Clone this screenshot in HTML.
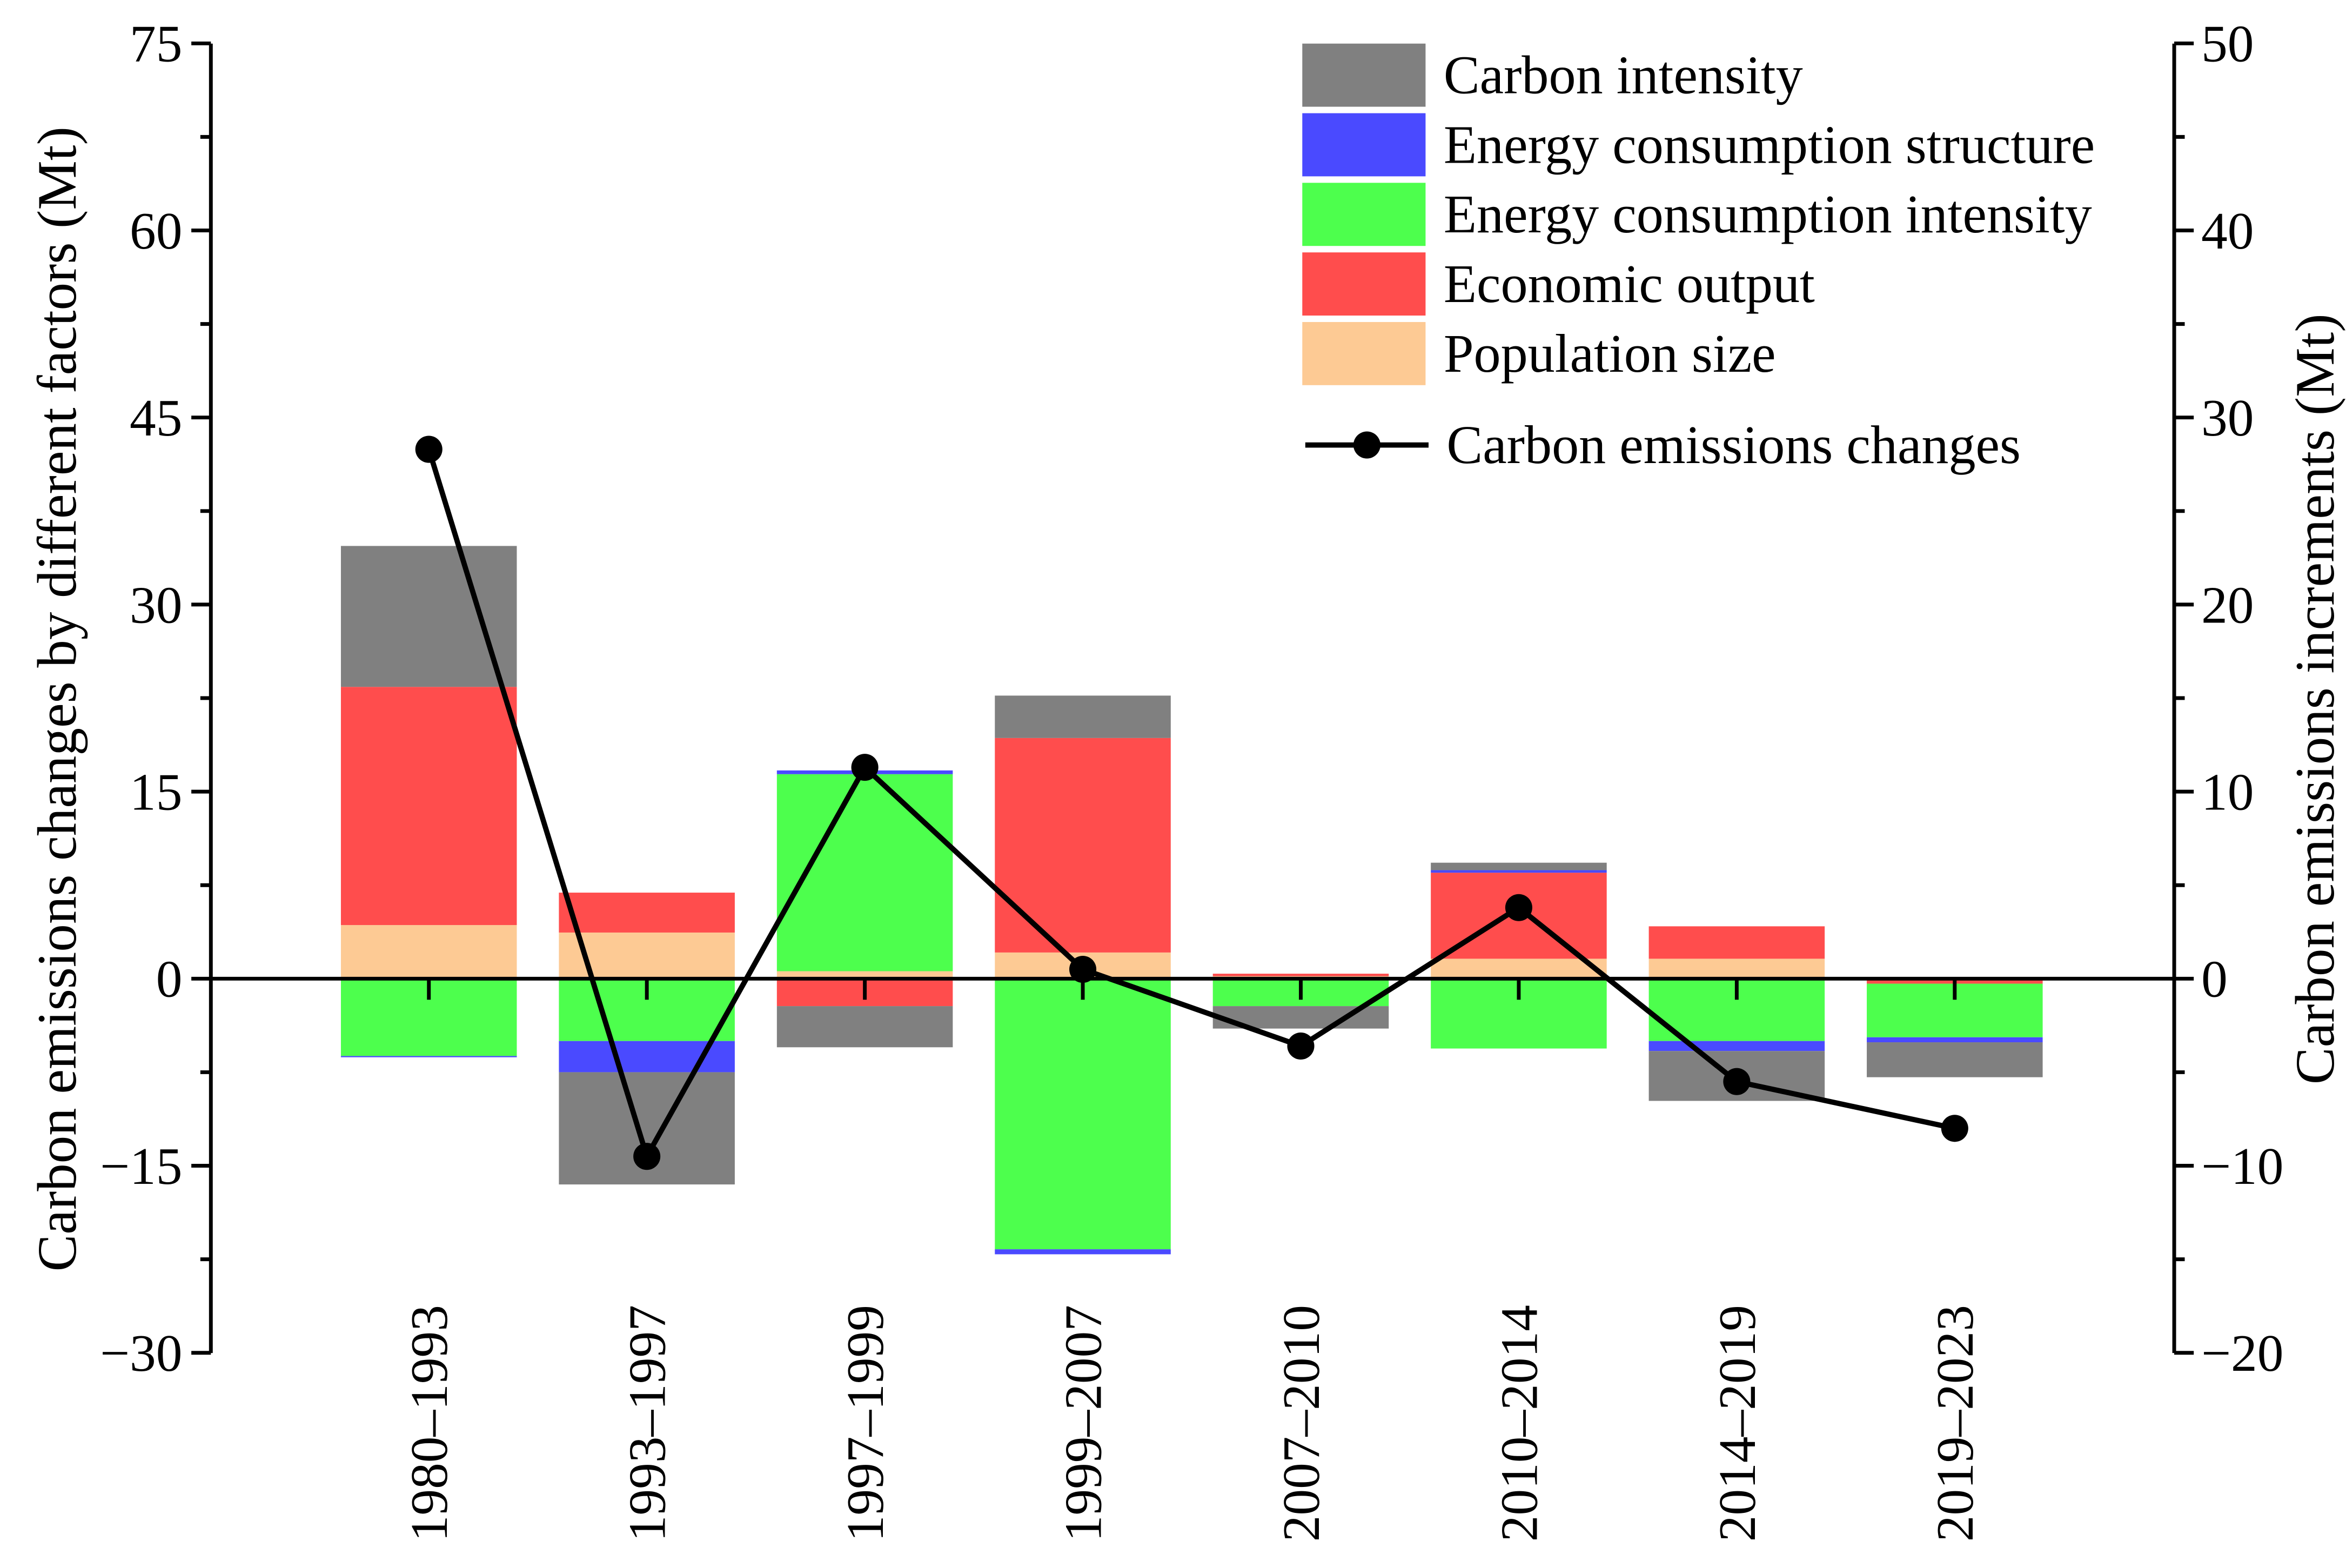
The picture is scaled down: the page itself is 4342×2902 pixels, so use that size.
<!DOCTYPE html>
<html><head><meta charset="utf-8"><style>
html,body{margin:0;padding:0;background:#fff;}
svg{display:block;font-family:"Liberation Serif",serif;}
</style></head><body>
<svg id="chart" width="4342" height="2902" viewBox="0 0 1560 1043" xmlns="http://www.w3.org/2000/svg">
<g id="bars"></g>
<g id="axes"></g>
<g id="line"></g>
<g id="legend"></g>
</svg>
<script>
const categories=["1980\u20131993","1993\u20131997","1997\u20131999","1999\u20132007","2007\u20132010","2010\u20132014","2014\u20132019","2019\u20132023"];
const population=[4.3,3.7,0.6,2.1,0.2,1.6,1.6,0.1];
const economic=[19.1,3.2,-2.2,17.2,0.2,6.9,2.6,-0.4];
const energyIntensity=[-6.2,-5.0,15.8,-21.7,-2.2,-5.6,-5.0,-4.3];
const energyStructure=[-0.1,-2.5,0.3,-0.4,0.0,0.2,-0.8,-0.4];
const carbonIntensity=[11.3,-9.0,-3.3,3.4,-1.8,0.6,-4.0,-2.8];
const emissionChanges=[28.3,-9.5,11.3,0.5,-3.6,3.8,-5.5,-8.0];
const leftTicks=[75,60,45,30,15,0,-15,-30];
const rightTicks=[50,40,30,20,10,0,-10,-20];

const NS="http://www.w3.org/2000/svg";
const yL=v=>651-v*(871/105);
const yR=v=>651-v*(871/70);
const xC=i=>285+i*145;
const BW=117;
function mk(tag,attrs,parent,text){const e=document.createElementNS(NS,tag);for(const k in attrs)e.setAttribute(k,attrs[k]);if(text!==undefined)e.textContent=text;parent.appendChild(e);return e;}

const series=[
 {name:"population-size",vals:population,color:"#fdca94"},
 {name:"economic-output",vals:economic,color:"#ff4d4d"},
 {name:"energy-consumption-intensity",vals:energyIntensity,color:"#4dff4d"},
 {name:"energy-consumption-structure",vals:energyStructure,color:"#4a4aff"},
 {name:"carbon-intensity",vals:carbonIntensity,color:"#808080"}
];
const bars=document.getElementById('bars');
categories.forEach((c,i)=>{
  let pos=0,neg=0;
  series.forEach(s=>{
    const v=s.vals[i];let a,b;
    if(v>=0){a=pos;b=pos+v;pos=b;}else{a=neg;b=neg+v;neg=b;}
    const y1=yL(Math.max(a,b)),y2=yL(Math.min(a,b));
    const r=mk('rect',{x:xC(i)-BW/2,y:y1,width:BW,height:Math.max(0,y2-y1),fill:s.color},bars);
    
    
  });
});

const ax=document.getElementById('axes');
const st={stroke:"#000","stroke-width":2.5};
mk('line',Object.assign({x1:140,y1:29,x2:140,y2:900},st),ax);
mk('line',Object.assign({x1:1446,y1:29,x2:1446,y2:900},st),ax);
mk('line',Object.assign({x1:140,y1:651,x2:1446,y2:651},st),ax);
for(let v=75;v>=-30;v-=7.5){const major=(v%15===0);mk('line',Object.assign({x1:140-(major?13:7),y1:yL(v),x2:140,y2:yL(v)},st),ax);}
leftTicks.forEach(v=>{const t=mk('text',{x:121,y:yL(v)+12,"text-anchor":"end","font-size":35},ax,v<0?"\u2212"+(-v):String(v));});
for(let v=50;v>=-20;v-=5){const major=(v%10===0);mk('line',Object.assign({x1:1446,y1:yR(v),x2:1446+(major?13:7),y2:yR(v)},st),ax);}
rightTicks.forEach(v=>{const t=mk('text',{x:1464,y:yR(v)+12,"text-anchor":"start","font-size":35},ax,v<0?"\u2212"+(-v):String(v));});
categories.forEach((c,i)=>{
  mk('line',Object.assign({x1:xC(i),y1:651,x2:xC(i),y2:665},st),ax);
  const t=mk('text',{x:0,y:0,"text-anchor":"end","font-size":35,transform:`translate(${xC(i)+12},868) rotate(-90)`},ax,c);
  
});
const lt=mk('text',{x:0,y:0,"text-anchor":"middle","font-size":37,transform:"translate(50,465) rotate(-90)"},ax,"Carbon emissions changes by different factors (Mt)");

const rt=mk('text',{x:0,y:0,"text-anchor":"middle","font-size":37,transform:"translate(1552,465) rotate(-90)"},ax,"Carbon emissions increments (Mt)");


const ln=document.getElementById('line');
const pts=emissionChanges.map((v,i)=>xC(i)+","+yR(v)).join(" ");
mk('polyline',{points:pts,fill:"none",stroke:"#000","stroke-width":3.5},ln);
emissionChanges.forEach((v,i)=>{const c=mk('circle',{cx:xC(i),cy:yR(v),r:9,fill:"#000"},ln);});

const lg=document.getElementById('legend');
const items=[["Carbon intensity","#808080"],["Energy consumption structure","#4a4aff"],["Energy consumption intensity","#4dff4d"],["Economic output","#ff4d4d"],["Population size","#fdca94"]];
items.forEach((it,k)=>{
  const cy=50+k*46.3;
  const r=mk('rect',{x:866,y:cy-21,width:82,height:42,fill:it[1]},lg);
  
  const t=mk('text',{x:960,y:cy+12,"font-size":36},lg,it[0]);
  
});
mk('line',{x1:868,y1:296,x2:950,y2:296,stroke:"#000","stroke-width":3.5},lg);
mk('circle',{cx:909,cy:296,r:9,fill:"#000"},lg);
const t2=mk('text',{x:962,y:308,"font-size":36},lg,"Carbon emissions changes");

</script>
</body></html>
